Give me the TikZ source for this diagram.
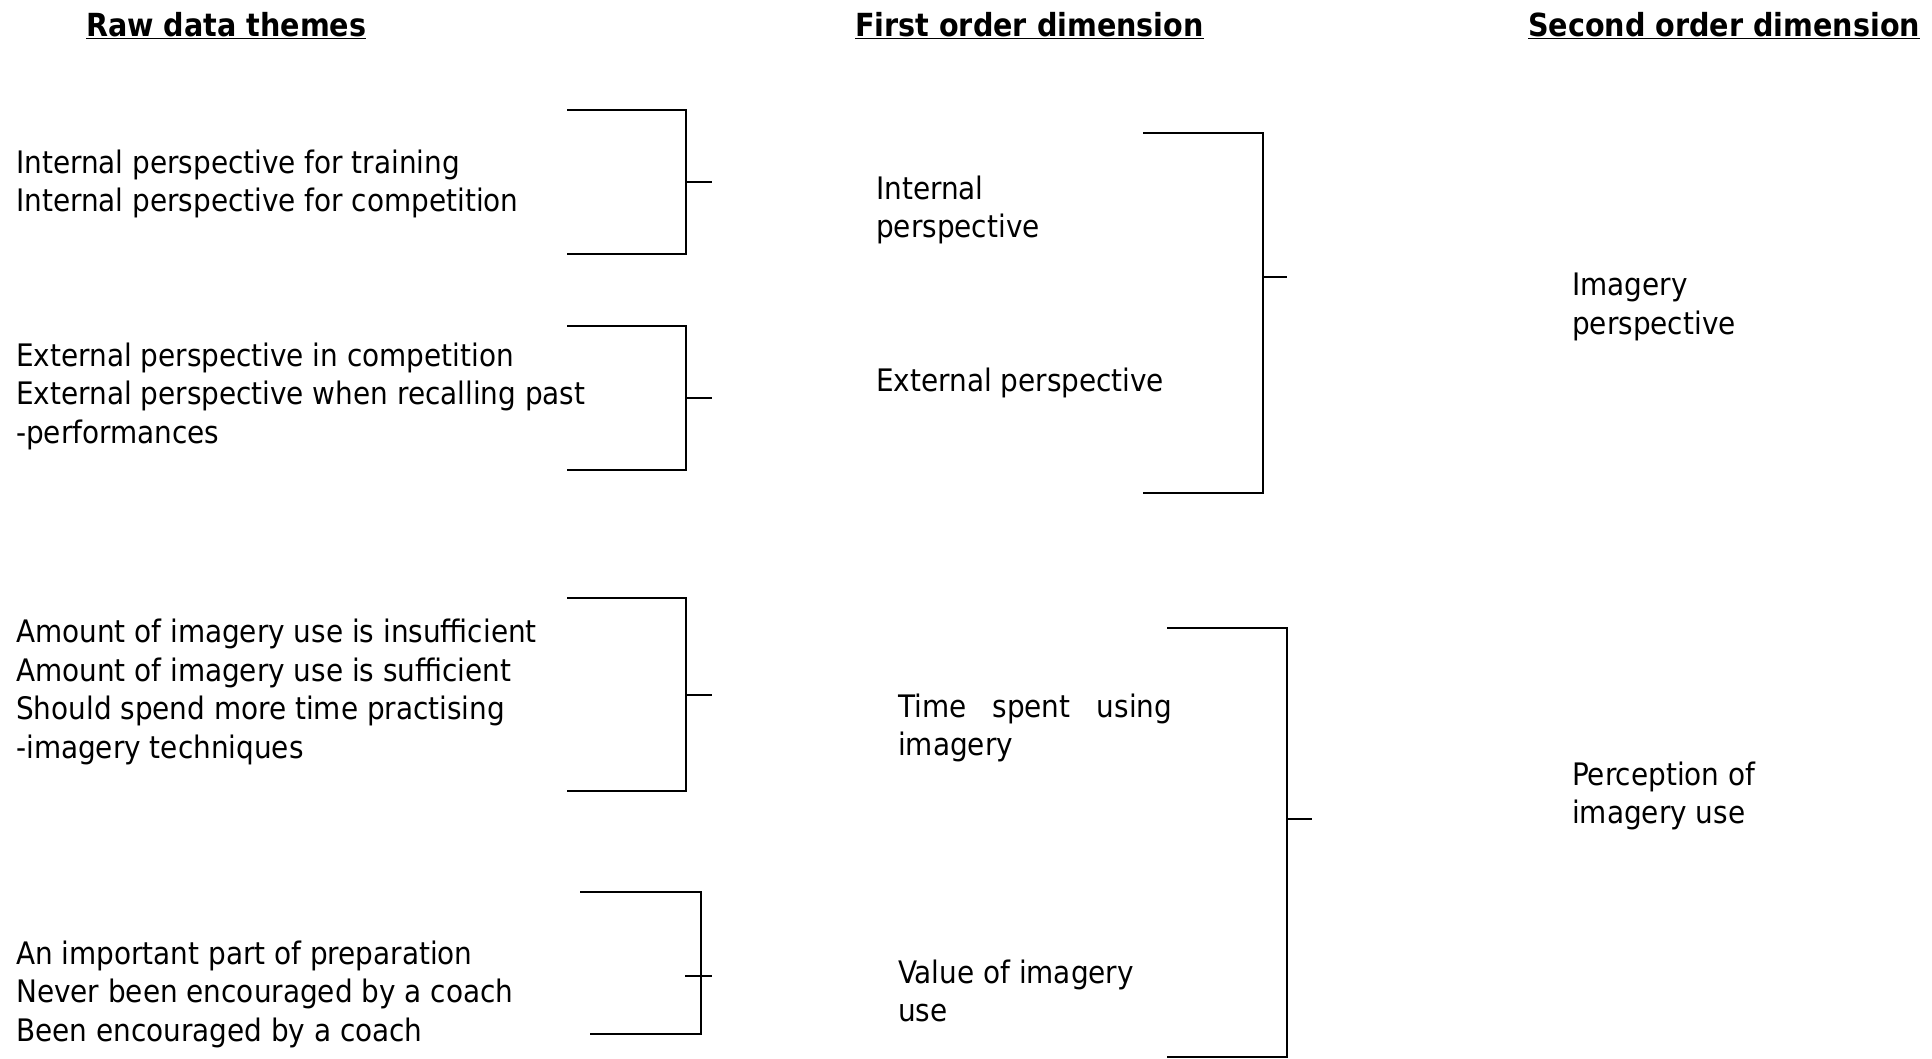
\documentclass[tikz,border=0pt]{standalone}
\usepackage{fontspec}
\setmainfont{DejaVu Sans Condensed}
\begin{document}
	\begin{tikzpicture}[x=1pt,y=-1pt,
		theme/.style={anchor=west,align=left,inner sep=0pt,font=\fontsize{31}{38.5}\selectfont},
		head/.style={anchor=base west,inner sep=0pt,font=\fontsize{31.8}{36}\selectfont\bfseries},
		brace/.style={line width=2pt},
		bigbrace/.style={line width=1.6pt}]
		\useasboundingbox (0,0) rectangle (1932,1058);
		\node [head] (h1) at (86,36) {\underline{Raw data themes}};
		\node [head] (h2) at (855,36) {\underline{First order dimension}};
		\node [head] (h3) at (1528,36) {\underline{Second order dimension}};
		\node [theme] (r1) at (16,184) {Internal perspective for training\\Internal perspective for competition};
		\node [theme] (r2) at (16,396) {External perspective in competition\\External perspective when recalling past\\-performances};
		\node [theme] (r3) at (16,692) {Amount of imagery use is insufficient\\Amount of imagery use is sufficient\\Should spend more time practising\\-imagery techniques};
		\node [theme] (r4) at (16,994) {An important part of preparation\\Never been encouraged by a coach\\Been encouraged by a coach};
		\node [theme] (f1) at (876,210) {Internal\\perspective};
		\node [theme] (f2) at (876,383) {External perspective};
		\node [theme] (f3) at (898,728) {\makebox[274pt][s]{Time spent using}\\imagery};
		\node [theme] (f4) at (898,991) {Value of imagery\\use};
		\node [theme] (s1) at (1572,307) {Imagery\\perspective};
		\node [theme] (s2) at (1572,796) {Perception of\\imagery use};
		\draw [brace] (567,110) -- (686,110) -- (686,254) -- (567,254) (686,182) -- (712,182);
		\draw [brace] (567,326) -- (686,326) -- (686,470) -- (567,470) (686,398) -- (712,398);
		\draw [brace] (567,598) -- (686,598) -- (686,791) -- (567,791) (686,695) -- (712,695);
		\draw [brace] (580,892) -- (701,892) -- (701,1034) -- (590,1034) (685,976) -- (712,976);
		\draw [bigbrace] (1143,133) -- (1263,133) -- (1263,493) -- (1143,493) (1263,277) -- (1287,277);
		\draw [bigbrace] (1167,628) -- (1287,628) -- (1287,1057) -- (1167,1057) (1287,819) -- (1312,819);
	\end{tikzpicture}
\end{document}
